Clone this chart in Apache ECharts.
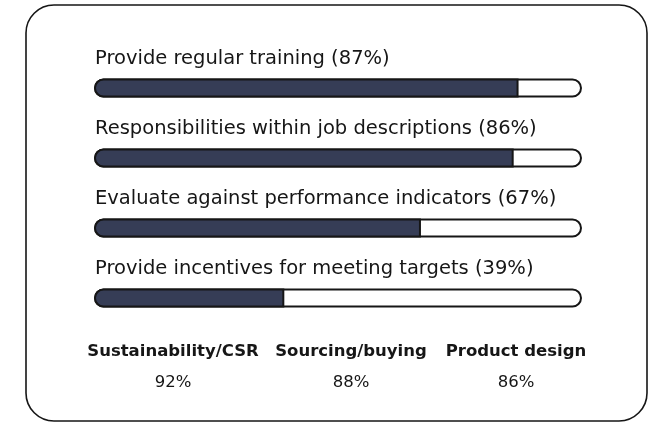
<!DOCTYPE html>
<html>
<head>
<meta charset="utf-8">
<script src="https://cdn.jsdelivr.net/npm/echarts@6/dist/echarts.min.js"></script>
<style>
  html, body { margin: 0; padding: 0; background: #fff; }
  #chart { width: 648px; height: 423px; }
</style>
</head>
<body>
<div id="chart"></div>
<script>
// bar rows
var practices = [
  'Provide regular training',
  'Responsibilities within job descriptions',
  'Evaluate against performance indicators',
  'Provide incentives for meeting targets'
];
var shares = [87, 86, 67, 39];

// footer stats
var teams = ['Sustainability/CSR', 'Sourcing/buying', 'Product design'];
var teamShares = [92, 88, 86];

var ink = '#161616';
var navy = '#363d56';
var font = '"DejaVu Sans", sans-serif';

var chart = echarts.init(document.getElementById('chart'));

var footerX = [173, 351, 516];
var graphics = [{
  type: 'rect',
  z: 0,
  shape: { x: 26, y: 5, width: 621, height: 416, r: 28 },
  style: { fill: '#fff', stroke: ink, lineWidth: 1.6 }
}];
for (var i = 0; i < teams.length; ++i) {
  graphics.push({
    type: 'text', z: 5, x: footerX[i], y: 352,
    style: { text: teams[i], fill: ink, font: 'bold 16.5px ' + font, textAlign: 'center', textVerticalAlign: 'middle' }
  });
  graphics.push({
    type: 'text', z: 5, x: footerX[i], y: 383,
    style: { text: teamShares[i] + '%', fill: ink, font: '16.5px ' + font, textAlign: 'center', textVerticalAlign: 'middle' }
  });
}

chart.setOption({
  animation: false,
  graphic: graphics,
  grid: { left: 94, width: 488, top: 53, height: 280 },
  xAxis: { type: 'value', min: 0, max: 100, show: false },
  yAxis: { type: 'category', data: practices, inverse: true, show: false },
  series: [
    {
      type: 'bar',
      z: 3,
      barWidth: 19,
      barGap: '-100%',
      data: practices.map(function () { return 100; }),
      itemStyle: { color: '#fff', borderColor: ink, borderWidth: 2, borderRadius: 10 },
      label: {
        show: true,
        position: [1, -20],
        align: 'left',
        verticalAlign: 'middle',
        color: ink,
        fontFamily: font,
        fontSize: 19.5,
        formatter: function (p) { return p.name + ' (' + shares[p.dataIndex] + '%)'; }
      }
    },
    {
      type: 'bar',
      z: 4,
      barWidth: 19,
      barGap: '-100%',
      data: shares,
      itemStyle: { color: navy, borderColor: ink, borderWidth: 2, borderRadius: [10, 0, 0, 10] }
    }
  ]
});
</script>
</body>
</html>
